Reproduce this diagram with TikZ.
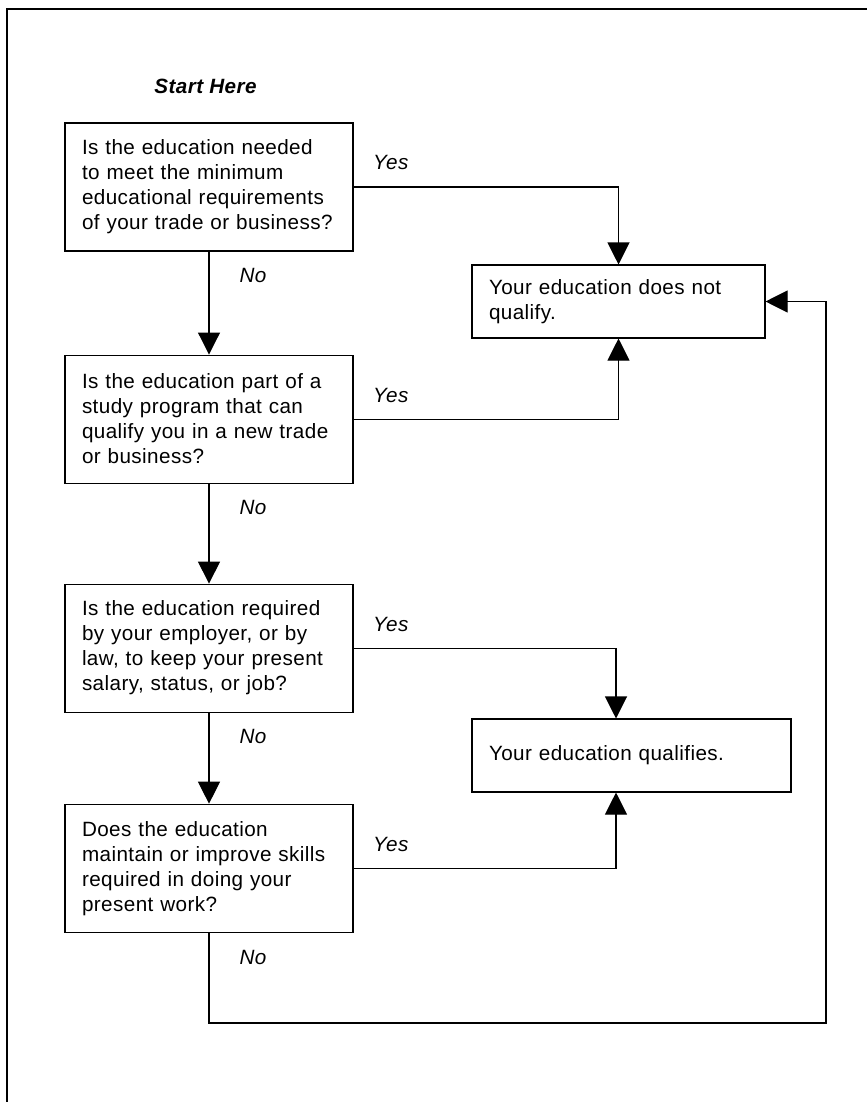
\documentclass[tikz,border=0pt]{standalone}
\usepackage{fontspec}
\setmainfont{Liberation Sans}[LetterSpace=2]
\usetikzlibrary{positioning,arrows.meta}

\begin{document}
\begin{tikzpicture}[x=0.75pt, y=-0.75pt, font=\fontsize{15.5}{18.75}\selectfont, line width=0.8pt,
    ask/.style = {draw, align=left, text width=190.5pt, inner xsep=12.75pt, minimum height=96pt},
    ans/.style = {draw, align=left, inner xsep=12.75pt, minimum height=54.75pt},
    lbl/.style = {inner sep=0pt, font=\fontsize{15.5}{18.75}\selectfont\itshape},
    go/.style = {-{Triangle[width=16.5pt, length=16.5pt]}}]
    \useasboundingbox (0,0) rectangle (867,1102);
    \draw[line width=1pt] (7,1102) -- (7,9) -- (867,9);
    % questions
    \node[ask] (q1) at (209,187) {Is the education needed\\to meet the minimum\\educational requirements\\of your trade or business?};
    \node[ask] (q2) [below=77.25pt of q1] {Is the education part of a\\study program that can\\qualify you in a new trade\\or business?};
    \node[ask] (q3) [below=75pt of q2] {Is the education required\\by your employer, or by\\law, to keep your present\\salary, status, or job?};
    \node[ask] (q4) [below=68.25pt of q3] {Does the education\\maintain or improve skills\\required in doing your\\present work?};
    % answers
    \node[ans, text width=194.25pt] (notq) at (618.5,301.5) {Your education does not\\qualify.};
    \node[ans, text width=213.75pt] (qual) at (631.5,755.5) {Your education qualifies.};
    \coordinate (yc) at (616,0);
    \coordinate (lp) at (826,1023);
    % labels
    \node[lbl, font=\fontsize{15.5}{18.75}\selectfont\bfseries\itshape, xshift=-2.6pt] (start) [above=21pt of q1] {Start Here};
    \node[lbl] (y1) [above right=12.75pt and 14.25pt of q1.east] {Yes};
    \node[lbl] (y2) [above right=12pt and 14.25pt of q2.east] {Yes};
    \node[lbl] (y3) [above right=12pt and 14.25pt of q3.east] {Yes};
    \node[lbl] (y4) [above right=12pt and 14.25pt of q4.east] {Yes};
    \node[lbl] (n1) [below right=12.4pt and 22.5pt of q1.south] {No};
    \node[lbl] (n2) [below right=12.4pt and 22.5pt of q2.south] {No};
    \node[lbl] (n3) [below right=12.4pt and 22.5pt of q3.south] {No};
    \node[lbl] (n4) [below right=12.4pt and 22.5pt of q4.south] {No};
    % connectors
    \draw[go] (q1.south) -- (q2.north);
    \draw[go] (q2.south) -- (q3.north);
    \draw[go] (q3.south) -- (q4.north);
    \draw[go] (q1.east) -| (notq.north);
    \draw[go] (q2.east) -| (notq.south);
    \draw[go] (q3.east) -| (yc |- qual.north);
    \draw[go] (q4.east) -| (yc |- qual.south);
    \draw[go] (q4.south) |- (lp) |- (notq.east);
\end{tikzpicture}
\end{document}
